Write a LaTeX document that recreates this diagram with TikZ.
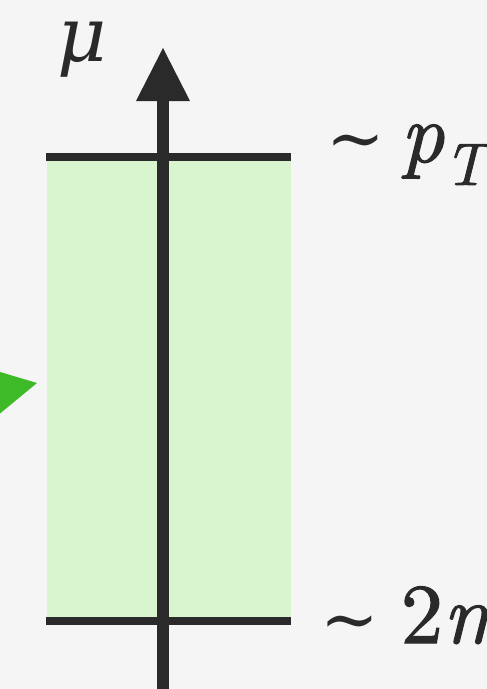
\documentclass[tikz,border=0pt]{standalone}
\usepackage{fontspec}
\setmainfont{lmroman10-regular}[Extension=.otf, ItalicFont=lmroman10-italic, BoldFont=lmroman10-regular, BoldItalicFont=lmroman10-italic, BoldFeatures={FakeBold=1.3}, BoldItalicFeatures={FakeBold=1.3}]
\newfontfamily\symf{DejaVu Serif}
\definecolor{bgc}{HTML}{F5F5F5}
\definecolor{ink}{HTML}{2A2A2A}
\definecolor{band}{HTML}{D9F5D0}
\definecolor{pointer}{HTML}{3EBA29}
\tikzset{
  lbl/.style={inner sep=0pt, outer sep=0pt, text=ink, font=\fontsize{85}{100}\selectfont\bfseries},
  bar/.style={draw=ink, line width=8pt},
}
\newcommand{\tld}{{\symf\mdseries\fontsize{70}{80}\selectfont ∼}}
\begin{document}
\begin{tikzpicture}[x=1pt,y=-1pt]
\useasboundingbox (0,0) rectangle (487,689);
\clip (0,0) rectangle (487,689);
\fill[bgc] (0,0) rectangle (487,689);
% green band
\fill[band] (47,157) rectangle (291,621);
% pointer triangle
\fill[pointer] (-20,366) -- (37,383) -- (-20,430) -- cycle;
% axis
\coordinate (axb) at (163,700);
\coordinate (axt) at (163,100);
\draw[ink, line width=12pt] (axb) -- (axt);
\fill[ink] (136,101) -- (163,48) -- (190,101) -- cycle;
% level bars
\coordinate (tl) at (46,157);
\coordinate (tr) at (291,157);
\coordinate (bl) at (46,621);
\coordinate (br) at (291,621);
\draw[bar] (tl) -- (tr);
\draw[bar] (bl) -- (br);
% labels
\node[lbl, anchor=base west] (mu) at (57,61) {{\symf\mdseries\itshape\fontsize{76}{80}\selectfont μ}};
\node[lbl, anchor=base west] (pt) at (326,162) {\tld\hspace{16pt}\textit{p}\raisebox{-23pt}{\fontsize{60}{60}\selectfont\textit{T}}};
\node[lbl, anchor=base west] (tm) at (320,643) {\tld\hspace{22pt}2\textit{m}};
\end{tikzpicture}
\end{document}
